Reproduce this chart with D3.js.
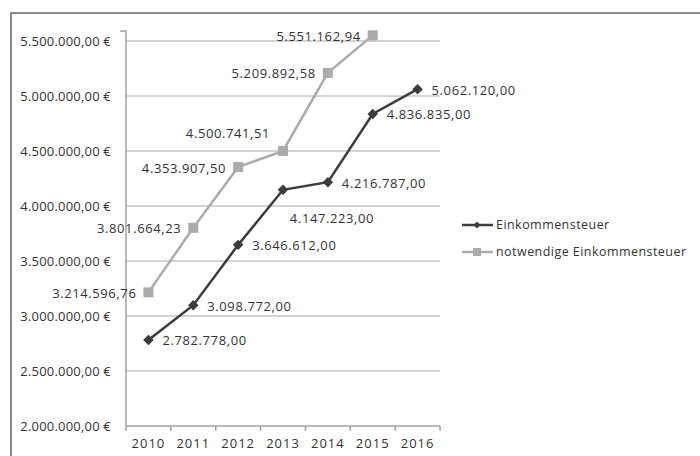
<!DOCTYPE html>
<html><head><meta charset="utf-8">
<script src="https://cdn.jsdelivr.net/npm/d3@7"></script>
<style>body{margin:0;background:#fff}svg{display:block}text{font-family:"Open Sans",sans-serif;fill:#333}</style>
</head><body><svg id="c" width="700" height="456"></svg>
<script>
const years = ["2010","2011","2012","2013","2014","2015","2016"];
const einkommensteuer = [2782778.00, 3098772.00, 3646612.00, 4147223.00, 4216787.00, 4836835.00, 5062120.00];
const notwendige = [3214596.76, 3801664.23, 4353907.50, 4500741.51, 5209892.58, 5551162.94];
const yTicks = [2000000, 2500000, 3000000, 3500000, 4000000, 4500000, 5000000, 5500000];
const seriesNames = ["Einkommensteuer", "notwendige Einkommensteuer"];
// label placement per point (presentation only)
const placeE = ["r","r","r","br","r","r","r"];
const placeN = ["l","l","l","al","l","l"];

const svg = d3.select("#c");
const fmt = v => v.toLocaleString("de-DE",{minimumFractionDigits:2,maximumFractionDigits:2});
svg.append("rect").attr("x",11).attr("y",13).attr("width",700).attr("height",460).attr("fill","#fff").attr("stroke","#8a8a8a").attr("stroke-width",2);

const L=126, R=440, T=41, B=426;
const x = d3.scaleBand().domain(years).range([L,R]);
const y = d3.scaleLinear().domain([2000000,5500000]).range([B,T]);
const cx = d => x(d)+x.bandwidth()/2;

// grid
svg.append("g").selectAll("line").data(yTicks).join("line")
  .attr("x1",L).attr("x2",R).attr("y1",d=>y(d)).attr("y2",d=>y(d))
  .attr("stroke",d=>d===2000000?"#a0a0a0":"#c4c4c4").attr("stroke-width",1.5);
// y axis
const ya = svg.append("g").attr("transform",`translate(${L},0)`)
  .call(d3.axisLeft(y).tickValues(yTicks).tickSize(6).tickPadding(9).tickFormat(d=>fmt(d)+" €"));
ya.select(".domain").attr("stroke","#a0a0a0").attr("stroke-width",1.5).attr("d",`M-6,${T-10}H0V${B}`);
ya.selectAll(".tick line").attr("stroke","#a0a0a0").attr("stroke-width",1.5).attr("x1",-6);
ya.selectAll("text").style("font-size","13px").style("letter-spacing","0.2px").style("fill","#333");
// x axis
const xa = svg.append("g").attr("transform",`translate(0,${B})`).call(d3.axisBottom(x).tickSize(0).tickPadding(13));
xa.select(".domain").remove();
xa.selectAll("text").style("font-size","13px").style("letter-spacing","1px").style("fill","#333");
svg.append("g").selectAll("line").data(years.map((d,i)=>x(d)).concat([R])).join("line")
  .attr("x1",d=>d).attr("x2",d=>d).attr("y1",B).attr("y2",B+5).attr("stroke","#a0a0a0").attr("stroke-width",1.5);

const line = d3.line().x((d,i)=>cx(years[i])).y(d=>y(d));
const cN="#ababab", cE="#3c3c3c";
svg.append("path").datum(notwendige).attr("d",line).attr("fill","none").attr("stroke",cN).attr("stroke-width",2.5);
svg.append("path").datum(einkommensteuer).attr("d",line).attr("fill","none").attr("stroke",cE).attr("stroke-width",2.5);
svg.append("g").selectAll("rect").data(notwendige).join("rect")
  .attr("x",(d,i)=>cx(years[i])-5).attr("y",d=>y(d)-5).attr("width",10).attr("height",10).attr("fill",cN);
const diamond = d3.symbol().type(d3.symbolDiamond2).size(70);
svg.append("g").selectAll("path").data(einkommensteuer).join("path")
  .attr("d",diamond).attr("transform",(d,i)=>`translate(${cx(years[i])},${y(d)})`).attr("fill",cE);

function lab(data, place){
  svg.append("g").selectAll("text").data(data).join("text")
    .attr("x",(d,i)=>{const p=place[i],X=cx(years[i]);return p==="r"?X+14:p==="l"?X-12:p==="br"?X+49:X-55;})
    .attr("y",(d,i)=>{const p=place[i],Y=y(d);return p==="br"?Y+29:p==="al"?Y-17:Y+1;})
    .attr("dy","0.35em").attr("text-anchor",(d,i)=>{const p=place[i];return p==="r"?"start":p==="l"?"end":"middle";})
    .style("font-size","13px").style("letter-spacing","0.6px").text(d=>fmt(d));
}
lab(einkommensteuer, placeE);
lab(notwendige, placeN);

// legend
const lg = svg.append("g");
[[cE,"d"],[cN,"s"]].forEach((s,i)=>{
  const Y=225+i*27;
  lg.append("line").attr("x1",462).attr("x2",493).attr("y1",Y).attr("y2",Y).attr("stroke",s[0]).attr("stroke-width",2.5);
  if(s[1]==="d") lg.append("path").attr("d",d3.symbol().type(d3.symbolDiamond2).size(30)).attr("transform",`translate(477,${Y})`).attr("fill",s[0]);
  else lg.append("rect").attr("x",473).attr("y",Y-4).attr("width",8).attr("height",8).attr("fill",s[0]);
  lg.append("text").attr("x",496).attr("y",Y).attr("dy","0.35em").style("font-size","12.5px").style("letter-spacing","0.45px").text(seriesNames[i]);
});
</script></body></html>
